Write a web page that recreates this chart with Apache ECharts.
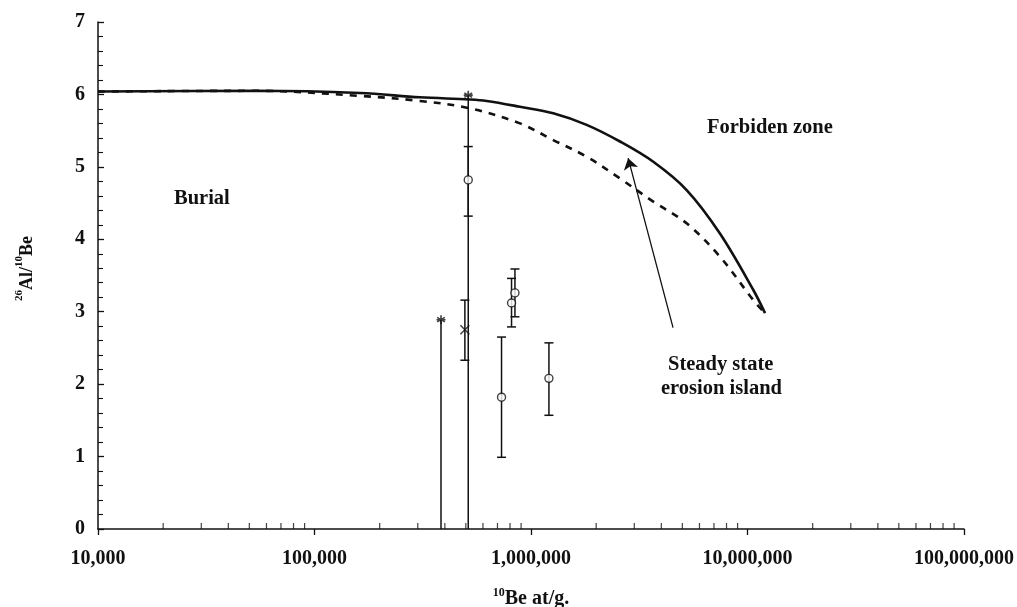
<!DOCTYPE html>
<html>
<head>
<meta charset="utf-8">
<script src="https://cdn.jsdelivr.net/npm/echarts@6/dist/echarts.min.js"></script>
<style>html,body{margin:0;padding:0;background:#fff}#c{width:1017px;height:607px}</style>
</head>
<body>
<div id="c"></div>
<script>
// ---- data ----
const xTickValues = [1e4, 1e5, 1e6, 1e7, 1e8];
const yTickValues = [0, 1, 2, 3, 4, 5, 6, 7];
const minorMultipliers = [2, 3, 4, 5, 6, 7, 8, 9];

// solid curve: upper bound (constant erosion / exposure limit)
const solidX = [10000, 54200, 162000, 307000, 519000, 624000, 889000, 1267000, 1807000, 2576000, 3672000, 5235000, 7460000, 10640000, 12050000];
const solidY = [6.04, 6.05, 6.02, 5.96, 5.93, 5.91, 5.83, 5.74, 5.58, 5.35, 5.07, 4.68, 4.08, 3.30, 2.98];

// dashed curve: steady-state erosion
const dashX = [10000, 54200, 162000, 307000, 519000, 889000, 1267000, 1807000, 2576000, 3672000, 5235000, 7460000, 10640000, 12050000];
const dashY = [6.04, 6.05, 5.98, 5.91, 5.81, 5.60, 5.37, 5.14, 4.84, 4.52, 4.22, 3.76, 3.16, 2.98];

// asterisk samples (with line down to zero)
const starX = [384000, 513000];
const starY = [2.89, 5.99];
const starLow = [0, 0];

// open-circle samples with error bars
const circX = [513000, 813000, 843000, 731000, 1210000];
const circY = [4.82, 3.12, 3.26, 1.82, 2.08];
const circLow = [4.32, 2.79, 2.93, 0.99, 1.57];
const circHigh = [5.28, 3.46, 3.59, 2.65, 2.57];

// cross sample with error bar
const crossX = [495000];
const crossY = [2.75];
const crossLow = [2.33];
const crossHigh = [3.16];

// arrow annotation (tail -> head)
const arrowTail = [4530000, 2.78];
const arrowHead = [2810000, 5.12];

// ---- build ----
const FONT = '"Liberation Serif", "Times New Roman", serif';
const zip = (a, b) => a.map((v, i) => [v, b[i]]);

const minorTicks = [];
xTickValues.slice(0, -1).forEach(d => minorMultipliers.forEach(m => minorTicks.push([d * m, 0])));

const errData = [];
starX.forEach((x, i) => errData.push([x, starLow[i], starY[i], 0]));
circX.forEach((x, i) => errData.push([x, circLow[i], circHigh[i], 1]));
crossX.forEach((x, i) => errData.push([x, crossLow[i], crossHigh[i], 1]));

const fmt = v => Number(v).toLocaleString('en-US');

const chart = echarts.init(document.getElementById('c'));
chart.setOption({
  backgroundColor: '#fff',
  animation: false,
  grid: { left: 98, right: 53, top: 22, bottom: 78, outerBoundsMode: 'none' },
  xAxis: {
    type: 'log', logBase: 10, min: 1e4, max: 1e8,
    name: '{sup|10}{b|Be at/g.}',
    nameLocation: 'middle', nameGap: 58,
    nameTextStyle: { rich: {
      b: { fontFamily: FONT, fontWeight: 'bold', fontSize: 20, color: '#111', lineHeight: 22, verticalAlign: 'bottom' },
      sup: { fontFamily: FONT, fontWeight: 'bold', fontSize: 12, color: '#111', lineHeight: 22, verticalAlign: 'top', padding: [0, 0, 6, 0] }
    } },
    axisLine: { lineStyle: { color: '#111', width: 1.5 } },
    axisTick: { inside: false, length: 6, lineStyle: { color: '#111', width: 1.3 } },
    axisLabel: { formatter: fmt, margin: 20, fontFamily: FONT, fontWeight: 'bold', fontSize: 20, color: '#111' },
    splitLine: { show: false }
  },
  yAxis: {
    type: 'value', min: 0, max: 7, interval: 1,
    name: '{sup|26}{b|Al/}{sup|10}{b|Be}',
    nameLocation: 'middle', nameRotate: 90, nameGap: 62,
    nameTextStyle: { padding: [0, 0, 0, 14], rich: {
      b: { fontFamily: FONT, fontWeight: 'bold', fontSize: 18, color: '#111', lineHeight: 22, verticalAlign: 'bottom' },
      sup: { fontFamily: FONT, fontWeight: 'bold', fontSize: 11, color: '#111', lineHeight: 22, verticalAlign: 'top', padding: [0, 0, 6, 0] }
    } },
    axisLine: { show: true, lineStyle: { color: '#111', width: 1.5 } },
    axisTick: { show: true, inside: true, length: 6, lineStyle: { color: '#111', width: 1.3 } },
    minorTick: { show: true, splitNumber: 5, length: 5, lineStyle: { color: '#111', width: 1.1 } },
    axisLabel: { margin: 13, fontFamily: FONT, fontWeight: 'bold', fontSize: 20, color: '#111' },
    splitLine: { show: false }
  },
  graphic: [
    { type: 'text', left: 174, top: 188, style: { text: 'Burial', font: 'bold 20.5px ' + FONT, fill: '#111' } },
    { type: 'text', left: 707, top: 117, style: { text: 'Forbiden zone', font: 'bold 20.5px ' + FONT, fill: '#111' } },
    { type: 'text', left: 668, top: 354, style: { text: 'Steady state', font: 'bold 20.5px ' + FONT, fill: '#111' } },
    { type: 'text', left: 661, top: 378, style: { text: 'erosion island', font: 'bold 20.5px ' + FONT, fill: '#111' } }
  ],
  series: [
    {
      type: 'scatter', data: minorTicks, silent: true, clip: false, z: 1,
      symbol: 'rect', symbolSize: [1.2, 6], symbolOffset: [0, -3],
      itemStyle: { color: '#111' }
    },
    {
      type: 'line', data: zip(solidX, solidY), smooth: 0.35, showSymbol: false, silent: true,
      lineStyle: { color: '#111', width: 2.6, type: 'solid' },
      markLine: {
        silent: true, animation: false,
        symbol: ['none', 'arrow'], symbolSize: 11,
        lineStyle: { color: '#111', width: 1.3, type: 'solid' },
        label: { show: false },
        data: [[{ coord: arrowTail }, { coord: arrowHead }]]
      }
    },
    {
      type: 'line', data: zip(dashX, dashY), smooth: 0.35, showSymbol: false, silent: true,
      lineStyle: { color: '#111', width: 2.6, type: [7, 7] }
    },
    {
      type: 'custom', data: errData, silent: true, z: 3,
      encode: { x: 0, y: [1, 2] },
      renderItem: function (params, api) {
        const x = api.value(0);
        const lo = api.coord([x, api.value(1)]);
        const hi = api.coord([x, api.value(2)]);
        const caps = api.value(3);
        const st = { stroke: '#111', lineWidth: 1.5 };
        const ch = [{ type: 'line', shape: { x1: lo[0], y1: lo[1], x2: hi[0], y2: hi[1] }, style: st }];
        if (caps) {
          ch.push({ type: 'line', shape: { x1: lo[0] - 4.5, y1: lo[1], x2: lo[0] + 4.5, y2: lo[1] }, style: st });
          ch.push({ type: 'line', shape: { x1: hi[0] - 4.5, y1: hi[1], x2: hi[0] + 4.5, y2: hi[1] }, style: st });
        }
        return { type: 'group', children: ch };
      }
    },
    {
      type: 'scatter', data: zip(circX, circY), silent: true, z: 4,
      symbol: 'circle', symbolSize: 8,
      itemStyle: { color: '#fff', borderColor: '#111', borderWidth: 1.4 }
    },
    {
      type: 'scatter', data: zip(starX, starY), silent: true, z: 4,
      symbol: 'path://M5,0L5,10M0.7,2.5L9.3,7.5M0.7,7.5L9.3,2.5M0,5L10,5', symbolSize: 9,
      itemStyle: { color: 'none', borderColor: '#111', borderWidth: 1.6 }
    },
    {
      type: 'scatter', data: zip(crossX, crossY), silent: true, z: 4,
      symbol: 'path://M0,0L10,10M0,10L10,0', symbolSize: 9,
      itemStyle: { color: 'none', borderColor: '#111', borderWidth: 1.5 }
    }
  ]
});
</script>
</body>
</html>
